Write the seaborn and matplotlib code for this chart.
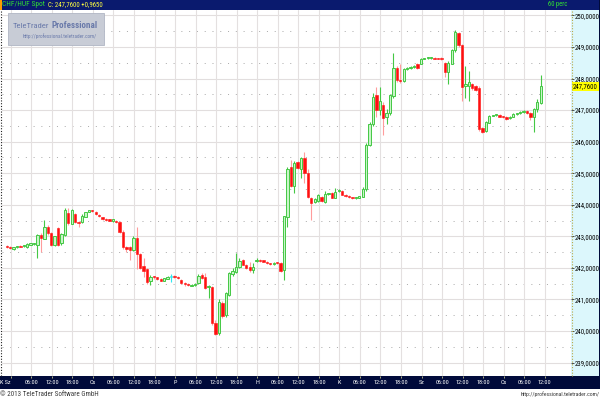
import matplotlib
matplotlib.use("Agg")
import matplotlib.pyplot as plt
import matplotlib.transforms as mtransforms
from matplotlib.patches import Rectangle
from matplotlib.lines import Line2D
from matplotlib import font_manager
from matplotlib.font_manager import FontProperties
import seaborn as sns
import numpy as np
import pandas as pd

# ---------------- data ----------------
symbol = "CHF/HUF Spot"
last_quote = "C: 247,7600 +0,9650"
interval_label = "60 perc"
last_price = 247.76
last_price_label = "247,7600"
watermark_title_a = "TeleTrader"
watermark_title_b = "Professional"
watermark_url = "http://professional.teletrader.com/"
footer_left = "\u00a9 2013 TeleTrader Software GmbH"
footer_right = "http://professional.teletrader.com/"

opens = [242.70, 242.66, 242.60, 242.65, 242.70, 242.68, 242.66, 242.74, 242.75, 242.72,
         243.04, 242.93, 243.30, 243.10, 242.72, 243.25, 242.78, 243.05, 243.75, 243.40,
         243.70, 243.47, 243.45, 243.62, 243.78, 243.82, 243.78, 243.68, 243.60, 243.55,
         243.52, 243.50, 243.50, 243.46, 243.15, 242.67, 242.66, 242.58, 242.96, 242.45,
         242.05, 241.96, 241.60, 241.72, 241.70, 241.65, 241.60, 241.66, 241.72, 241.74,
         241.72, 241.63, 241.52, 241.50, 241.43, 241.46, 241.51, 241.78, 241.70, 241.38,
         241.38, 240.25, 239.93, 240.88, 240.50, 241.15, 241.80, 241.88, 242.04, 242.24,
         242.10, 242.02, 241.94, 242.22, 242.25, 242.22, 242.19, 242.15, 242.12, 242.17,
         242.14, 241.93, 243.60, 245.20, 244.58, 245.37, 245.12, 245.47, 245.00, 244.22,
         244.10, 244.12, 244.24, 244.10, 244.33, 244.38, 244.22, 244.43, 244.45, 244.32,
         244.28, 244.24, 244.20, 244.22, 244.26, 244.50, 245.90, 246.57, 247.49, 246.99,
         247.17, 246.78, 246.90, 247.45, 248.33, 247.96, 247.92, 248.30, 248.33, 248.36,
         248.47, 248.47, 248.63, 248.64, 248.65, 248.66, 248.64, 248.65, 248.50, 248.20,
         248.47, 248.90, 249.45, 249.05, 247.75, 247.78, 247.82, 247.75, 247.70, 246.42,
         246.33, 246.60, 246.82, 246.83, 246.85, 246.80, 246.79, 246.74, 246.79, 246.87,
         246.90, 246.94, 246.98, 246.92, 246.78, 247.04, 247.22]
highs = [242.72, 242.68, 242.67, 242.68, 242.72, 242.74, 242.80, 242.78, 242.79, 243.08,
         243.10, 243.51, 243.35, 243.14, 243.02, 243.28, 243.10, 243.90, 243.90, 243.88,
         243.74, 243.50, 243.70, 243.78, 243.85, 243.84, 243.80, 243.70, 243.62, 243.57,
         243.54, 243.53, 243.52, 243.48, 243.20, 242.70, 242.68, 243.00, 243.30, 242.48,
         242.30, 241.99, 241.76, 241.74, 241.72, 241.67, 241.69, 241.75, 241.82, 241.76,
         241.74, 241.65, 241.55, 241.52, 241.48, 241.52, 241.80, 241.85, 241.83, 241.45,
         241.42, 240.35, 241.00, 240.95, 241.25, 241.88, 242.00, 242.46, 242.30, 242.28,
         242.13, 242.18, 242.15, 242.30, 242.27, 242.24, 242.21, 242.17, 242.19, 242.19,
         242.18, 243.66, 245.20, 245.42, 245.38, 245.40, 245.52, 245.68, 245.15, 244.25,
         244.20, 244.34, 244.27, 244.43, 244.38, 244.40, 244.52, 244.50, 244.47, 244.34,
         244.30, 244.26, 244.24, 244.29, 244.55, 245.95, 246.62, 247.55, 247.73, 247.73,
         247.25, 247.05, 247.50, 248.82, 248.40, 248.45, 248.35, 248.36, 248.40, 248.43,
         248.50, 248.66, 248.66, 248.68, 248.68, 248.68, 248.66, 248.67, 248.52, 248.55,
         248.93, 249.53, 249.47, 249.10, 248.40, 248.25, 247.85, 247.80, 247.75, 246.45,
         246.65, 246.85, 246.86, 246.87, 246.87, 246.82, 246.81, 246.80, 246.90, 246.92,
         246.96, 246.99, 247.00, 246.94, 247.08, 247.35, 248.12]
lows = [242.63, 242.60, 242.58, 242.62, 242.65, 242.66, 242.62, 242.72, 242.73, 242.30,
        242.50, 242.90, 243.05, 242.70, 242.70, 242.70, 242.74, 243.00, 243.35, 243.38,
        243.42, 243.30, 243.43, 243.60, 243.76, 243.77, 243.68, 243.62, 243.53, 243.50,
        243.48, 243.47, 243.43, 243.12, 242.60, 242.50, 242.25, 242.55, 241.95, 241.98,
        241.70, 241.50, 241.45, 241.66, 241.62, 241.58, 241.58, 241.64, 241.55, 241.68,
        241.64, 241.50, 241.42, 241.43, 241.41, 241.44, 241.49, 241.66, 241.32, 241.04,
        240.20, 239.86, 239.88, 240.40, 240.45, 241.10, 241.75, 241.85, 242.00, 242.08,
        241.96, 241.88, 241.85, 242.20, 242.20, 242.18, 242.13, 242.10, 242.10, 242.12,
        241.88, 241.62, 243.30, 244.55, 244.36, 245.12, 244.85, 244.70, 244.20, 243.52,
        244.05, 244.10, 244.10, 244.07, 244.31, 244.20, 244.20, 244.41, 244.30, 244.26,
        244.22, 244.18, 244.18, 244.20, 244.24, 244.45, 245.85, 246.50, 246.78, 246.85,
        246.20, 246.55, 246.85, 247.40, 247.90, 247.85, 247.90, 248.27, 248.30, 248.34,
        248.30, 248.45, 248.61, 248.62, 248.63, 248.61, 248.61, 248.60, 248.05, 247.82,
        248.45, 248.85, 249.00, 247.30, 247.40, 247.30, 247.65, 247.60, 246.35, 246.28,
        246.30, 246.58, 246.80, 246.81, 246.77, 246.75, 246.70, 246.72, 246.77, 246.85,
        246.88, 246.92, 246.88, 246.70, 246.30, 246.95, 247.18]
closes = [242.66, 242.62, 242.65, 242.66, 242.67, 242.72, 242.77, 242.76, 242.76, 243.04,
          242.95, 243.30, 243.12, 242.72, 243.00, 242.74, 243.07, 243.83, 243.42, 243.85,
          243.45, 243.42, 243.66, 243.76, 243.82, 243.79, 243.70, 243.65, 243.55, 243.52,
          243.50, 243.51, 243.45, 243.15, 242.65, 242.60, 242.58, 242.96, 242.45, 242.00,
          241.90, 241.55, 241.72, 241.70, 241.65, 241.60, 241.67, 241.72, 241.72, 241.71,
          241.68, 241.52, 241.50, 241.46, 241.46, 241.50, 241.75, 241.68, 241.35, 241.42,
          240.25, 239.90, 240.93, 240.46, 241.20, 241.83, 241.90, 242.04, 242.23, 242.10,
          241.99, 241.94, 242.04, 242.26, 242.22, 242.20, 242.15, 242.12, 242.17, 242.14,
          241.90, 243.63, 245.15, 244.58, 245.33, 245.16, 245.47, 245.00, 244.26, 244.06,
          244.17, 244.32, 244.12, 244.35, 244.36, 244.22, 244.42, 244.47, 244.32, 244.28,
          244.24, 244.20, 244.22, 244.27, 244.50, 245.90, 246.57, 247.42, 246.99, 247.30,
          246.75, 246.92, 247.47, 248.33, 247.95, 247.92, 248.30, 248.34, 248.37, 248.40,
          248.33, 248.63, 248.64, 248.66, 248.66, 248.63, 248.63, 248.62, 248.20, 248.50,
          248.90, 249.47, 249.05, 247.73, 247.84, 247.90, 247.70, 247.65, 246.40, 246.32,
          246.62, 246.82, 246.84, 246.85, 246.79, 246.78, 246.73, 246.78, 246.88, 246.90,
          246.94, 246.97, 246.90, 246.78, 247.04, 247.25, 247.76]

x_tick_labels = ["K Sz", "06:00", "12:00", "18:00",
                 "Cs", "06:00", "12:00", "18:00",
                 "P", "06:00", "12:00", "18:00",
                 "H", "06:00", "12:00", "18:00",
                 "K", "06:00", "12:00", "18:00",
                 "Sz", "06:00", "12:00", "18:00",
                 "Cs", "06:00", "12:00"]
y_ticks = [239, 240, 241, 242, 243, 244, 245, 246, 247, 248, 249, 250]

# ---------------- style ----------------
sns.set_theme(style="white")
plt.rcParams['font.family'] = ['Liberation Sans', 'DejaVu Sans']


def find_font(bold=False):
    """Pick a narrow/condensed sans face if one is installed."""
    prefs = ["liberationsansnarrow", "robotocondensed", "dejavusanscondensed", "opensanscondensed"]
    files = []
    for f in font_manager.fontManager.ttflist:
        low = f.fname.lower().replace("-", "").replace("_", "").replace(" ", "")
        if "italic" in low or "oblique" in low:
            continue
        isbold = "bold" in low
        if isbold != bold:
            continue
        if "light" in low or "thin" in low or "medium" in low or "black" in low:
            continue
        for rank, p in enumerate(prefs):
            if p in low:
                files.append((rank, f.fname))
    if files:
        files.sort()
        return files[0][1]
    return None


NARROW_FILE = find_font(False)
NARROW_BOLD_FILE = find_font(True)


def fprop(size, bold=False):
    path = NARROW_BOLD_FILE if bold else NARROW_FILE
    if path:
        return FontProperties(fname=path, size=size)
    return FontProperties(family=["Liberation Sans", "DejaVu Sans"], size=size,
                          weight="bold" if bold else "normal")


df = pd.DataFrame({"open": opens, "high": highs, "low": lows, "close": closes})
df["hour"] = np.arange(len(df))

W, H = 600, 400
fig = plt.figure(figsize=(6, 4), dpi=100)
fig.patch.set_facecolor("white")
renderer = fig.canvas.get_renderer()


def fx(px):
    return px / W


def fy(py):
    return 1 - py / H


def fit_width(t, width_px):
    w = t.get_window_extent(renderer).width
    if w > 0:
        t.set_fontsize(t.get_fontsize() * width_px / w)
    return t.get_fontsize()


NAVY_TOP = "#0a1a6e"
NAVY_BOT = "#000a3a"

ax = fig.add_axes([fx(2), fy(376), fx(571) - fx(2), fy(10) - fy(376)])
ax.set_facecolor("white")
ax.set_zorder(1)
for s in ax.spines.values():
    s.set_visible(False)

tick_pos = [1.2 + 6 * k for k in range(len(x_tick_labels))]
ax.set_xlim(-1.37, 164.86)
ax.set_ylim(238.573, 250.174)

# grid
for v in y_ticks:
    ax.axhline(v, color="#e2dede", lw=0.8, zorder=0)
    ax.axhline(v + 0.5, color="#a8a8a8", lw=0.7, ls=(0, (1, 7)), zorder=0)
ax.axhline(238.5, color="#a8a8a8", lw=0.7, ls=(0, (1, 7)), zorder=0)
for t in tick_pos:
    ax.axvline(t, color="#e4e0e0", lw=0.8, zorder=0)

# candles
bull = df["close"] > df["open"]
bear = df["close"] < df["open"]
doji = df["close"] == df["open"]

GREEN_EDGE = "#44c844"
GREEN_FILL = "#c8f5c8"
RED = "#ff1010"
RED_WICK = "#ff9c9c"
CYAN = "#30e8f0"

wick_colors = np.where(bull, GREEN_EDGE, np.where(bear, RED_WICK, CYAN))
ax.vlines(df["hour"], df["low"], df["high"], colors=wick_colors, lw=0.8, zorder=2)

body_w = 0.68
min_h = 0.035
bottoms = np.minimum(df["open"], df["close"])
heights = np.maximum(np.abs(df["close"] - df["open"]), min_h)
ax.bar(df["hour"][bull], heights[bull], width=body_w, bottom=bottoms[bull],
       facecolor=GREEN_FILL, edgecolor=GREEN_EDGE, linewidth=0.7, zorder=3)
ax.bar(df["hour"][bear], heights[bear], width=body_w, bottom=bottoms[bear],
       facecolor=RED, edgecolor=RED, linewidth=0.4, zorder=3)
ax.bar(df["hour"][doji], heights[doji], width=body_w, bottom=bottoms[doji] - min_h / 2,
       facecolor=CYAN, edgecolor=CYAN, linewidth=0.4, zorder=3)

# x ticks
ax.set_xticks(tick_pos)
ax.set_xticklabels([""] + x_tick_labels[1:])
ax.tick_params(axis="x", bottom=True, length=1.5, width=0.6, color="#c8c890",
               labelcolor="white", pad=1.6)
# y ticks on the right panel
ax.yaxis.tick_right()
ax.set_yticks(y_ticks)
ax.set_yticklabels([f"{v},0000" for v in y_ticks])
ax.tick_params(axis="y", right=True, left=False, length=1.8, width=0.6, color="#333333",
               labelcolor="black", pad=0.6)
ax.grid(False)

probe_x = fig.text(0, 0, "06:00", fontproperties=fprop(5))
x_fs = fit_width(probe_x, 13.5)
probe_x.remove()
probe_y = fig.text(0, 0, "250,0000", fontproperties=fprop(5))
y_fs = fit_width(probe_y, 24.5)
probe_y.remove()
for lbl in ax.get_xticklabels():
    lbl.set_fontproperties(fprop(x_fs))
for lbl in ax.get_yticklabels():
    lbl.set_fontproperties(fprop(y_fs))

fig.text(fx(0.5), fy(382.3), x_tick_labels[0], color="white", fontproperties=fprop(x_fs),
         ha="left", va="center", zorder=8)

# current price marker
trans = mtransforms.blended_transform_factory(ax.transAxes, ax.transData)
ax.text(1.0035, last_price, last_price_label, transform=trans, ha="left", va="center",
        fontproperties=fprop(y_fs), color="black", clip_on=False, zorder=10,
        bbox=dict(facecolor="#ffff00", edgecolor="none", pad=0.7))

# ------------- chrome -------------
fig.add_artist(Rectangle((fx(571), fy(376)), fx(598.5) - fx(571), fy(10) - fy(376),
                         transform=fig.transFigure, facecolor="#dcf7fc", edgecolor="none", zorder=-5))
fig.add_artist(Line2D([fx(571.5), fx(571.5)], [fy(376), fy(10)], transform=fig.transFigure,
                      color="#b8a848", lw=0.8, ls=(0, (1, 1.5)), zorder=5))
fig.add_artist(Line2D([fx(0.8), fx(0.8)], [fy(376), fy(10)], transform=fig.transFigure,
                      color="#222222", lw=0.8, ls=(0, (1, 1.5)), zorder=5))
# top bar
fig.add_artist(Rectangle((0, fy(9.5)), 1, 9.5 / H, transform=fig.transFigure,
                         facecolor=NAVY_TOP, edgecolor="none", zorder=6))
fig.add_artist(Rectangle((0, fy(9.5)), fx(2), 9.5 / H, transform=fig.transFigure,
                         facecolor="#ff9a00", edgecolor="none", zorder=7))
t_sym = fig.text(fx(2.5), fy(4.8), symbol, color="#33e033", fontproperties=fprop(5),
                 va="center", ha="left", zorder=8)
t_quote = fig.text(fx(48), fy(4.8), last_quote, color="#ffff40", fontproperties=fprop(5),
                   va="center", ha="left", zorder=8)
t_int = fig.text(fx(548), fy(4.8), interval_label, color="#33e033", fontproperties=fprop(5),
                 va="center", ha="left", zorder=8)
fit_width(t_sym, 42)
fit_width(t_quote, 55)
fit_width(t_int, 20)
# bottom bar
fig.add_artist(Rectangle((0, fy(388.5)), 1, 12.5 / H, transform=fig.transFigure,
                         facecolor=NAVY_BOT, edgecolor="none", zorder=-4))
fig.add_artist(Rectangle((fx(598.5), fy(388.5)), fx(1.5), 388.5 / H, transform=fig.transFigure,
                         facecolor=NAVY_BOT, edgecolor="none", zorder=6))

# watermark
fig.add_artist(Rectangle((fx(7.5), fy(45)), fx(96), 32 / H, transform=fig.transFigure,
                         facecolor="#c8ccd6", edgecolor="#b0b6c4", lw=0.6, zorder=6))
wa = fig.text(fx(12.5), fy(25.5), watermark_title_a, color="#6a7aaa", fontproperties=fprop(6.3),
              va="center", ha="left", zorder=8)
fit_width(wa, 36)
wa_ext = wa.get_window_extent(renderer)
start_b = wa_ext.x1 + 2.5
wb = fig.text(start_b / W, fy(25.5), watermark_title_b, color="#6a7aaa",
              fontproperties=fprop(wa.get_fontsize(), True), va="center", ha="left", zorder=8)
fit_width(wb, 97 - start_b)
wu = fig.text(fx(23), fy(36.5), watermark_url, color="#6a7aaa", fontproperties=fprop(3.9),
              va="center", ha="left", zorder=8)
fit_width(wu, 73)

# footer
fl = fig.text(fx(0.5), fy(394.5), footer_left, color="#3a3a3a", fontproperties=fprop(4.8),
              va="center", ha="left")
fr = fig.text(fx(599.5), fy(394.5), footer_right, color="#3a3a3a", fontproperties=fprop(4.8),
              va="center", ha="right")
fit_width(fl, 96)
fit_width(fr, 79)

fig.savefig("out.png", dpi=100)
